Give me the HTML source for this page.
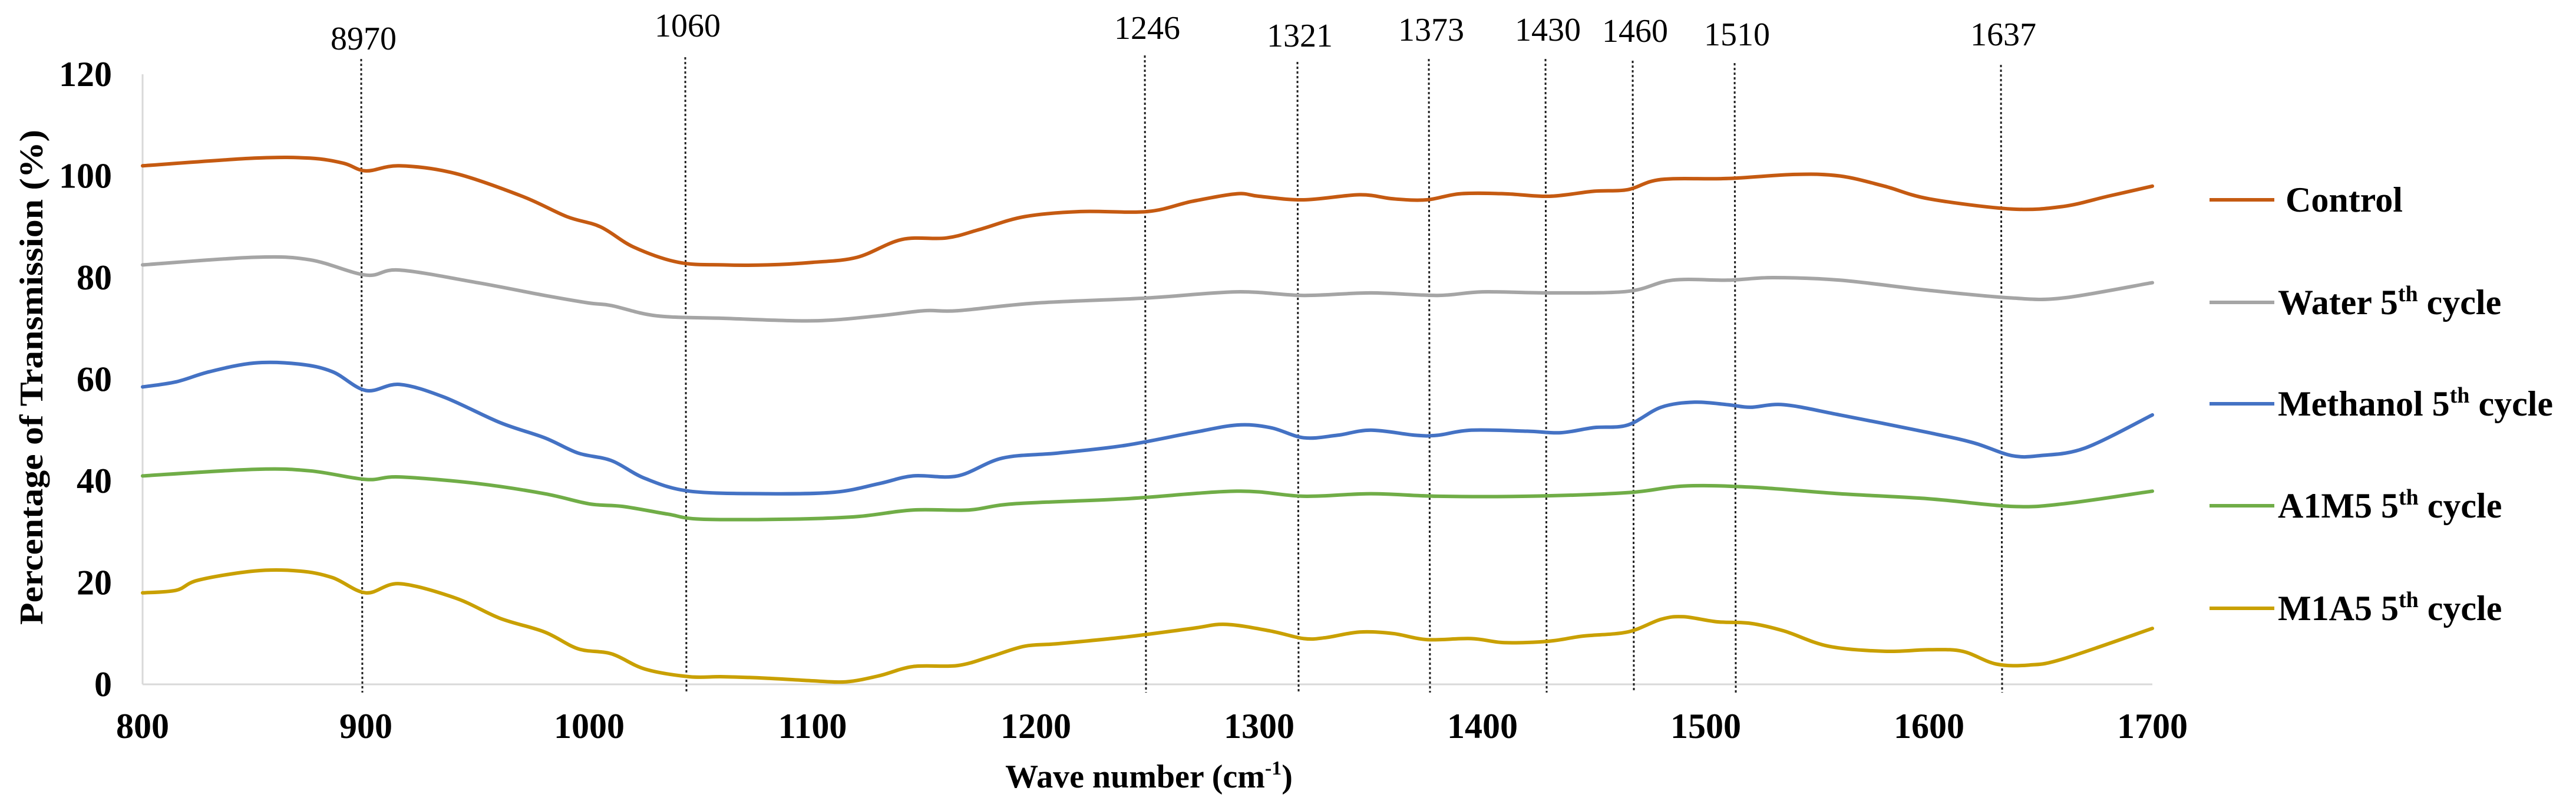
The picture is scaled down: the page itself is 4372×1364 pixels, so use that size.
<!DOCTYPE html>
<html><head><meta charset="utf-8">
<style>
html,body{margin:0;padding:0;background:#fff;}
svg{display:block;}
text{font-family:"Liberation Serif","Times New Roman",serif;}
</style></head>
<body>
<svg id="c" width="4372" height="1364" viewBox="0 0 4372 1364" xmlns="http://www.w3.org/2000/svg">
<rect width="4372" height="1364" fill="#fff"/>
<g id="axes">
<line x1="242" y1="126" x2="242" y2="1161" stroke="#d9d9d9" stroke-width="3"/>
<line x1="242" y1="1161" x2="3653" y2="1161" stroke="#d9d9d9" stroke-width="3"/>
</g>
<g id="yt" font-size="60" font-weight="bold" text-anchor="end"></g>
<g id="xt" font-size="60" font-weight="bold" text-anchor="middle"></g>
<g id="vl"></g>
<g id="ser"></g>
<text transform="translate(72,640) rotate(-90)" font-size="56" font-weight="bold" text-anchor="middle" textLength="840" lengthAdjust="spacingAndGlyphs">Percentage of  Transmission (%)</text>
<text x="1950" y="1336" font-size="56" font-weight="bold" text-anchor="middle">Wave number (cm<tspan font-size="34" dy="-22">-1</tspan><tspan dy="22">)</tspan></text>
<g id="leg" font-size="60" font-weight="bold"></g>
</svg>
<script>
var NS="http://www.w3.org/2000/svg";
function X(w){return 242+(w-800)*3.79;}
function Y(v){return 1161-v*8.625;}
function el(tag,attrs,parent,txt){var e=document.createElementNS(NS,tag);for(var k in attrs)e.setAttribute(k,attrs[k]);if(txt!==undefined)e.textContent=txt;parent.appendChild(e);return e;}
var yt=document.getElementById('yt');
for(var v=0;v<=120;v+=20)el('text',{x:190,y:Y(v)+20},yt,String(v));
var xt=document.getElementById('xt');
for(var w=800;w<=1700;w+=100)el('text',{x:X(w),y:1252},xt,String(w));
var vl=document.getElementById('vl');
var lines=[[613,100,"8970",65],[1163,97,"1060",43],[1943,94,"1246",47],[2202,105,"1321",60],[2425,100,"1373",50],[2623,100,"1430",50],[2771,103,"1460",52],[2944,107,"1510",58],[3396,110,"1637",58]];
lines.forEach(function(l){
 el('line',{x1:l[0],y1:l[1],x2:l[0]+2,y2:1175,stroke:"#222","stroke-width":3,"stroke-dasharray":"4 4"},vl);
 el('text',{x:l[0]+4,y:l[3]+19,"font-size":56,"text-anchor":"middle"},vl,l[2]);
});
var S=[
["#C55A11",[[800,102],[850,103.5],[875,103.5],[890,102.5],[900,101],[915,102],[940,100.5],[970,96],[990,92],[1005,90],[1020,86],[1040,83],[1060,82.5],[1080,82.5],[1100,83],[1120,84],[1140,87.5],[1160,87.8],[1175,89.5],[1195,92],[1220,93],[1250,93],[1270,95],[1290,96.5],[1300,96],[1320,95.3],[1345,96.3],[1360,95.5],[1375,95.3],[1390,96.5],[1410,96.5],[1430,96],[1450,97],[1465,97.3],[1480,99.3],[1510,99.5],[1540,100.3],[1560,100],[1580,98],[1600,95.5],[1637,93.5],[1660,94],[1680,96],[1700,98]]],
["#A5A5A5",[[800,82.5],[850,84],[875,83.5],[900,80.5],[915,81.5],[950,79],[980,76.5],[1000,75],[1010,74.5],[1030,72.5],[1060,72],[1100,71.5],[1130,72.5],[1150,73.5],[1165,73.5],[1200,75],[1250,76],[1290,77.2],[1320,76.5],[1350,77],[1380,76.5],[1400,77.2],[1430,77],[1465,77.3],[1485,79.5],[1510,79.5],[1530,80],[1560,79.5],[1600,77.5],[1637,76],[1660,76],[1700,79]]],
["#4472C4",[[800,58.5],[815,59.5],[830,61.5],[850,63.2],[870,63],[885,61.5],[900,57.8],[915,59],[935,56.5],[960,51.5],[980,48.5],[995,45.5],[1010,44],[1025,40.5],[1045,38],[1080,37.5],[1110,37.8],[1130,39.5],[1145,41],[1165,41],[1185,44.5],[1210,45.5],[1240,47],[1270,49.5],[1290,51],[1305,50.5],[1320,48.5],[1335,49],[1350,50],[1370,49],[1380,49],[1395,50],[1420,49.8],[1435,49.5],[1450,50.5],[1465,51],[1480,54.5],[1495,55.5],[1510,55],[1520,54.5],[1535,55],[1560,53],[1600,49.5],[1620,47.5],[1637,45],[1650,45],[1670,46.5],[1700,53]]],
["#70AD47",[[800,41],[850,42.3],[875,42],[900,40.3],[915,40.8],[950,39.5],[980,37.5],[1000,35.5],[1015,35],[1035,33.5],[1050,32.5],[1090,32.5],[1120,33],[1145,34.3],[1170,34.3],[1190,35.5],[1240,36.5],[1290,38],[1320,37],[1350,37.5],[1380,37],[1420,37],[1465,37.7],[1490,39],[1520,38.8],[1560,37.5],[1600,36.5],[1637,35],[1660,35.5],[1700,38]]],
["#C9A000",[[800,18],[815,18.5],[825,20.5],[850,22.3],[870,22.3],[885,21],[900,18],[915,19.8],[940,17],[960,13],[980,10.3],[995,7],[1010,6],[1025,3],[1045,1.5],[1060,1.5],[1080,1.2],[1100,0.7],[1115,0.5],[1130,1.7],[1145,3.5],[1165,3.7],[1180,5.5],[1195,7.5],[1210,8],[1240,9.3],[1270,11],[1285,11.8],[1305,10.5],[1320,9],[1330,9.2],[1345,10.3],[1360,10],[1375,8.8],[1395,9],[1410,8.2],[1430,8.5],[1445,9.5],[1465,10.3],[1480,12.8],[1490,13.3],[1505,12.3],[1520,12],[1535,10.5],[1555,7.5],[1580,6.5],[1600,6.8],[1615,6.5],[1630,4],[1645,3.8],[1660,5],[1700,11]]]
];
var ser=document.getElementById('ser');
S.forEach(function(s){
 var p=s[1].map(function(q){return [X(q[0]),Y(q[1])];});
 var d="M"+p[0][0].toFixed(1)+","+p[0][1].toFixed(1);
 for(var i=0;i<p.length-1;i++){
  var p0=p[Math.max(i-1,0)],p1=p[i],p2=p[i+1],p3=p[Math.min(i+2,p.length-1)];
  var c1x=p1[0]+(p2[0]-p0[0])/6,c1y=p1[1]+(p2[1]-p0[1])/6;
  var c2x=p2[0]-(p3[0]-p1[0])/6,c2y=p2[1]-(p3[1]-p1[1])/6;
  d+=" C"+c1x.toFixed(1)+","+c1y.toFixed(1)+" "+c2x.toFixed(1)+","+c2y.toFixed(1)+" "+p2[0].toFixed(1)+","+p2[1].toFixed(1);
 }
 el('path',{d:d,fill:"none",stroke:s[0],"stroke-width":6,"stroke-linejoin":"round","stroke-linecap":"round"},ser);
});
var leg=document.getElementById('leg');
var L=[["#C55A11",339,"Control",3879,null],["#A5A5A5",513,"Water",3866,332],["#4472C4",685,"Methanol",3866,477],["#70AD47",858,"A1M5",3866,332],["#C9A000",1032,"M1A5",3866,332]];
L.forEach(function(l){
 el('line',{x1:3750,y1:l[1],x2:3860,y2:l[1],stroke:l[0],"stroke-width":6},leg);
 var t=el('text',{x:l[3],y:l[1]+20},leg);
 if(l[4]===null){t.textContent=l[2];}
 else{
  t.appendChild(document.createTextNode(l[2]+" 5"));
  var sp=document.createElementNS(NS,'tspan');sp.setAttribute('font-size','38');sp.setAttribute('dy','-22');sp.textContent='th';t.appendChild(sp);
  var sp2=document.createElementNS(NS,'tspan');sp2.setAttribute('dy','22');sp2.textContent=' cycle';t.appendChild(sp2);
 }
});
</script>
</body></html>
